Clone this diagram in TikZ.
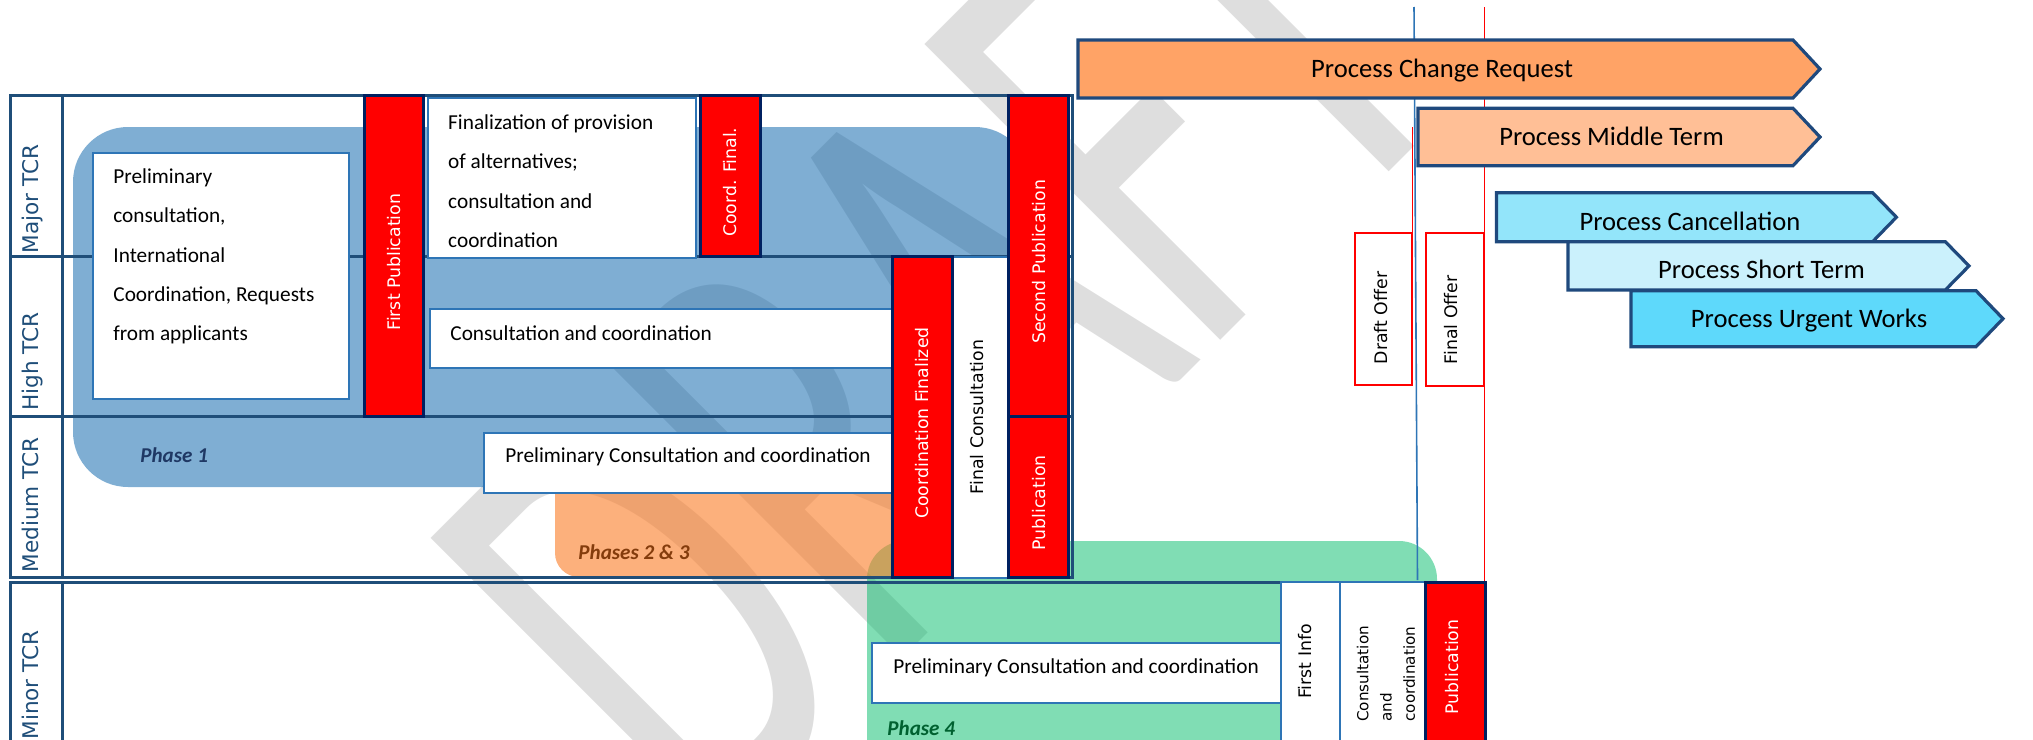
\documentclass[tikz,border=0pt]{standalone}
\usepackage{fontspec}
\setmainfont{Carlito}
\newfontfamily\carlito{Carlito}
\newfontfamily\dejavu{DejaVu Sans}
\usetikzlibrary{fit}
\definecolor{lanecol}{RGB}{31,78,121}
\definecolor{boxcol}{RGB}{46,117,182}
\definecolor{barborder}{RGB}{0,32,96}
\definecolor{wmgray}{RGB}{222,222,222}
\definecolor{blobblue}{RGB}{0,94,168}
\definecolor{bloborange}{RGB}{250,123,37}
\definecolor{blobgreen}{RGB}{1,187,105}
\definecolor{pcr}{RGB}{255,163,102}
\definecolor{pmt}{RGB}{255,191,150}
\definecolor{pcan}{RGB}{147,229,250}
\definecolor{pst}{RGB}{203,241,252}
\definecolor{puw}{RGB}{94,217,251}
\definecolor{ph1}{RGB}{31,56,100}
\definecolor{ph23}{RGB}{132,60,12}
\definecolor{ph4}{RGB}{0,97,48}
\definecolor{arrowborder}{RGB}{31,73,125}
\tikzset{
  boxnode/.style={draw=boxcol, line width=1pt, fill=white, inner sep=0pt},
  barnode/.style={draw=barborder, line width=1.5pt, fill=red, inner sep=0pt},
  offernode/.style={draw=red, line width=1pt, fill=white, inner sep=0pt},
  lane/.style={draw=lanecol, line width=1.5pt},
  boxtext/.style={font=\carlito\fontsize{10.65}{19.6}\selectfont, inner sep=0pt, align=left},
  bartext/.style={font=\dejavu\fontsize{8.65}{10}\selectfont, text=white, rotate=90, inner sep=0pt, xshift=-3pt},
  blacktext/.style={font=\dejavu\fontsize{8.65}{10}\selectfont, text=black, rotate=90, inner sep=0pt},
  lanetext/.style={font=\dejavu\fontsize{10.8}{12}\selectfont, text=lanecol, rotate=90, inner sep=0pt, anchor=base west},
  phasetext/.style={font=\carlito\bfseries\itshape\fontsize{10.55}{12}\selectfont, inner sep=0pt, anchor=west},
  procshape/.style={draw=arrowborder, line width=1.6pt, line join=miter},
  proctext/.style={font=\carlito\fontsize{13.3}{15}\selectfont, inner sep=0pt, anchor=base},
}
\begin{document}
\begin{tikzpicture}[x=0.5pt,y=-0.5pt]
\useasboundingbox (0,0) rectangle (2033,739);
\begin{scope}
\clip (0,0) rectangle (2033,739);
% watermark
\node[anchor=base west, inner sep=0pt, rotate=45, xscale=0.617, text=wmgray,
      font=\carlito\fontsize{326}{326}\selectfont] (wm) at (707.7,853.3) {DRAFT};
% phase blobs
\fill[blobgreen, fill opacity=0.5, rounded corners=19pt] (867,541) rectangle (1437,800);
\fill[blobblue, fill opacity=0.5, rounded corners=27.5pt] (73,127) rectangle (1030,487);
\fill[bloborange, fill opacity=0.6, rounded corners=12pt] (555,470) rectangle (1000,577);
% lanes
\draw[lane] (10,95.7) rectangle (62,577.5);
\draw[lane] (62,95.7) rectangle (1072,577.5);
\draw[lane] (10,256.7) -- (1072,256.7);
\draw[lane] (10,416.7) -- (1072,416.7);
\draw[lane] (10,582) rectangle (62,760);
\draw[lane] (62,582) rectangle (1485,760);
% milestone lines
\draw[boxcol, line width=0.8pt] (1414,7) -- (1417.5,580);
\draw[red, line width=0.8pt] (1484.5,7) -- (1484.5,582);
\draw[red, line width=0.8pt] (1412.4,127) -- (1412.4,232.7);
% boxes
\node[boxnode, fit={(93,152.7) (349,399)}] (prelimA) {};
\node[boxnode, fit={(427.7,98.3) (695.5,258.3)}] (fin) {};
\node[boxnode, fit={(429.5,309) (892.8,368.3)}] (consH) {};
\node[boxnode, fit={(483.7,432.7) (892.8,492.7)}] (prelimM) {};
\node[boxnode, fit={(952,256.7) (1008.5,577.5)}] (finalcons) {};
\node[boxnode, fit={(872.3,643.3) (1280.8,703.3)}] (prelimMin) {};
\node[boxnode, fit={(1280.8,582) (1340,760)}] (firstinfo) {};
\node[boxnode, fit={(1340,582) (1425.7,760)}] (consMin) {};
% red bars
\node[barnode, fit={(364.7,95.7) (423,416.7)}] (firstpub) {};
\node[barnode, fit={(700.3,95.7) (760,256.7)}] (coordfinal) {};
\node[barnode, fit={(892.8,256.7) (952,577.5)}] (coordfinalized) {};
\node[barnode, fit={(1008.7,95.7) (1068.8,416)}] (secondpub) {};
\node[barnode, fit={(1008.7,416) (1068.8,577.5)}] (pubM) {};
\node[barnode, fit={(1425.7,582) (1485,760)}] (pubMin) {};
% offers
\node[offernode, fit={(1355.3,232.7) (1412.4,385)}] (draftoffer) {};
\node[offernode, fit={(1426,233.3) (1484,385.7)}] (finaloffer) {};
% box texts
\node[boxtext, anchor=north west] (tprelimA) at (113,168.5)
  {Preliminary\\consultation,\\International\\Coordination, Requests\\from applicants};
\node[boxtext, anchor=north west] (tfin) at (447.8,114.5)
  {Finalization of provision\\of alternatives;\\consultation and\\coordination};
\node[boxtext, anchor=west] (tconsH) at (450,332.7) {Consultation and coordination};
\node[boxtext, anchor=west] (tprelimM) at (505,456.7) {Preliminary Consultation and coordination};
\node[boxtext, anchor=west] (tprelimMin) at (893,667.7) {Preliminary Consultation and coordination};
% bar texts
\node[bartext] (tfirstpub) at (firstpub.center) {First Publication};
\node[bartext] (tcoordfinal) at (coordfinal.center) {Coord. Final.};
\node[bartext] (tcoordfinalized) at (coordfinalized.center) {Coordination Finalized};
\node[bartext] (tsecondpub) at (secondpub.center) {Second Publication};
\node[bartext] (tpubM) at (pubM.center) {Publication};
\node[bartext] (tpubMin) at (1452.5,661) {Publication};
\node[blacktext] (tfinalcons) at (977,417) {Final Consultation};
\node[blacktext] (tfirstinfo) at (1305.5,661.5) {First Info};
\node[blacktext] (tdraft) at (1381,318) {Draft Offer};
\node[blacktext] (tfinaloffer) at (1451,320) {Final Offer};
\node[font=\dejavu\fontsize{7.6}{11.6}\selectfont, rotate=90, inner sep=0pt, align=left, anchor=north west]
  (tconsMin) at (1356.5,722) {Consultation\\and\\coordination};
% lane labels
\node[lanetext] (lmajor) at (38,254) {Major TCR};
\node[lanetext] (lhigh) at (38,411) {High TCR};
\node[lanetext] (lmedium) at (38,573) {Medium TCR};
\node[lanetext] (lminor) at (38,740) {Minor TCR};
% phase labels
\node[phasetext, text=ph1] (ph1) at (140,455) {Phase 1};
\node[phasetext, text=ph23] (ph23) at (578,551.7) {Phases 2 \& 3};
\node[phasetext, text=ph4] (ph4) at (887,728) {Phase 4};
% process arrows
\draw[procshape, fill=pcr] (1078,40) -- (1793,40) -- (1820,69) -- (1793,98) -- (1078,98) -- cycle;
\node[proctext] (tpcr) at (1442,77.5) {Process Change Request};
\draw[procshape, fill=pmt] (1418,108.3) -- (1793,108.3) -- (1820,137) -- (1793,165.7) -- (1418,165.7) -- cycle;
\node[proctext] (tpmt) at (1611.5,145.5) {Process Middle Term};
\draw[procshape, fill=pcan] (1496.4,192.7) -- (1872.6,192.7) -- (1896.4,217.2) -- (1872.6,241.7) -- (1496.4,241.7) -- cycle;
\node[proctext] (tpcan) at (1690,230) {Process Cancellation};
\draw[procshape, fill=pst] (1567.9,241.7) -- (1945.3,241.7) -- (1969,265.9) -- (1945.3,290) -- (1567.9,290) -- cycle;
\node[proctext] (tpst) at (1761.5,278) {Process Short Term};
\draw[procshape, fill=puw] (1631,290.7) -- (1976,290.7) -- (2003,318.7) -- (1976,346.7) -- (1631,346.7) -- cycle;
\node[proctext] (tpuw) at (1809,327.5) {Process Urgent Works};
\end{scope}
\end{tikzpicture}
\end{document}
